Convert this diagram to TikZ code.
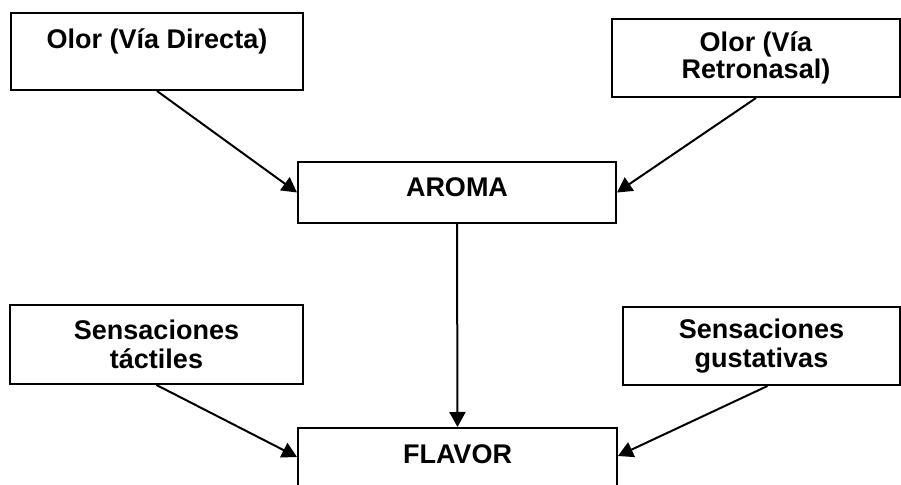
\documentclass[tikz,border=0pt]{standalone}
\usepackage{fontspec}
\setmainfont{Liberation Sans}
\usetikzlibrary{arrows.meta}
\tikzset{
  sensebox/.style = {draw=black, line width=1pt, align=center, inner xsep=0pt, inner ysep=0pt, font=\fontsize{13.5}{14.5}\selectfont\bfseries},
  onelinebox/.style = {sensebox, anchor=base},
  twolinebox/.style = {sensebox, minimum height=39pt},
  link/.style = {line width=1pt, -{Triangle[length=7.5pt,width=8pt]}}
}

\begin{document}
\begin{tikzpicture}[x=0.5pt, y=-0.5pt]
      \useasboundingbox (0,0) rectangle (901,485);
      % top row
      \node [onelinebox, minimum width=146pt, text height=18pt, text depth=20.5pt] (olordir) at (157,49) {Olor (Vía Directa)};
      \node [twolinebox, minimum width=144pt, font=\fontsize{13.5}{13.5}\selectfont\bfseries] (olorretro) at (756,58) {Olor (Vía\\Retronasal)};
      \node [onelinebox, minimum width=159pt, text height=17.5pt, text depth=13pt] (aroma) at (457,197) {AROMA};
      % bottom row
      \node [twolinebox, minimum width=146.5pt, minimum height=39.5pt] (tactil) at (156.5,344.5) {Sensaciones\\táctiles};
      \node [twolinebox, minimum width=138.5pt] (gusto) at (761.5,346) {Sensaciones\\gustativas};
      \node [onelinebox, minimum width=159.5pt, text height=18pt, text depth=40pt] (flavor) at (457.5,464) {FLAVOR};
      % connectors
      \draw [link] (olordir.south) -- (aroma.west);
      \draw [link] (olorretro.south) -- (aroma.east);
      \draw [link] (aroma.south) -- (flavor.north);
      \draw [link] (tactil.south) -- ([yshift=-15pt]flavor.north west);
      \draw [link] ([xshift=3pt]gusto.south) -- ([yshift=-14.5pt]flavor.north east);
    \end{tikzpicture}
\end{document}
